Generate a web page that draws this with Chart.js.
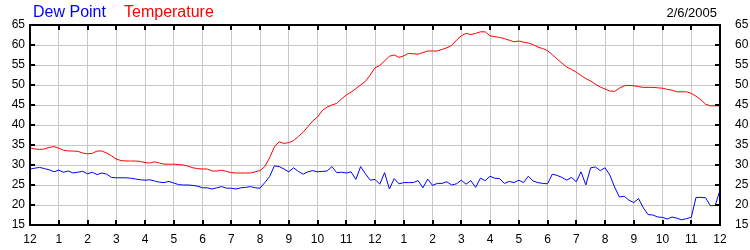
<!DOCTYPE html>
<html>
<head>
<meta charset="utf-8">
<script src="https://cdn.jsdelivr.net/npm/chart.js@4"></script>
<style>
  html, body { margin: 0; padding: 0; background: #fff; }
  canvas { display: block; }
</style>
</head>
<body>
<canvas id="graphe" width="750" height="250"></canvas>
<script>
// readings every 10 minutes, from midnight to midnight
const pasMinutes = 10;

const temperature = [
  34.3, 34.0, 33.9, 34.0, 34.4, 34.6, 34.2, 33.7, 33.5, 33.5, 33.4, 33.0,
  32.8, 32.9, 33.5, 33.5, 33.0, 32.3, 31.5, 31.1, 31.0, 31.0, 31.0, 30.9,
  30.6, 30.5, 30.8, 30.5, 30.2, 30.2, 30.2, 30.1, 30.0, 29.7, 29.3, 29.1,
  29.0, 29.0, 28.5, 28.5, 28.7, 28.4, 28.1, 28.0, 28.0, 28.0, 28.0, 28.3,
  28.6, 29.6, 31.8, 34.5, 35.8, 35.4, 35.6, 36.1, 37.1, 38.2, 39.6, 41.0,
  42.0, 43.6, 44.5, 45.0, 45.4, 46.5, 47.5, 48.2, 49.1, 50.0, 50.9, 52.5,
  54.3, 54.9, 56.0, 57.2, 57.5, 56.9, 57.3, 57.9, 57.8, 57.7, 58.1, 58.5,
  58.5, 58.5, 58.9, 59.3, 59.9, 61.2, 62.3, 62.9, 62.6, 62.9, 63.3, 63.3,
  62.3, 62.1, 61.9, 61.6, 61.2, 60.8, 61.0, 60.7, 60.5, 60.1, 59.5, 59.1,
  58.6, 57.6, 56.5, 55.5, 54.5, 53.9, 53.2, 52.4, 51.6, 51.0, 50.2, 49.5,
  49.0, 48.5, 48.4, 49.2, 49.8, 49.9, 49.8, 49.6, 49.4, 49.4, 49.4, 49.3,
  49.2, 48.9, 48.7, 48.3, 48.3, 48.3, 47.9, 47.2, 46.3, 45.2, 44.8, 44.8,
  44.8
];

const pointRosee = [
  29.0, 29.2, 29.4, 29.1, 28.8, 28.3, 28.7, 28.2, 28.5, 28.0, 28.2, 28.4,
  27.8, 28.2, 27.6, 28.0, 27.7, 26.9, 26.8, 26.8, 26.8, 26.7, 26.5, 26.3,
  26.2, 26.3, 26.0, 25.7, 25.6, 25.9, 25.5, 25.1, 25.0, 25.0, 24.9, 24.7,
  24.3, 24.3, 24.0, 24.3, 24.6, 24.2, 24.2, 24.0, 24.3, 24.4, 24.6, 24.3,
  24.2, 25.6, 27.1, 29.8, 29.6, 29.0, 28.3, 29.3, 28.4, 27.7, 28.3, 28.6,
  28.3, 28.4, 28.5, 29.6, 28.1, 28.2, 28.0, 28.3, 26.4, 29.6, 27.8, 26.2,
  26.4, 25.2, 28.1, 24.0, 26.6, 25.3, 25.6, 25.6, 25.6, 26.1, 24.3, 26.5,
  24.9, 25.4, 25.4, 25.8, 25.0, 25.3, 26.2, 25.2, 26.1, 24.4, 26.7, 26.1,
  27.2, 26.7, 26.6, 25.4, 25.9, 25.6, 26.2, 25.6, 27.2, 26.0, 25.6, 25.4,
  25.3, 27.7, 27.4, 26.9, 26.2, 26.9, 25.8, 28.3, 25.0, 29.3, 29.5, 28.6,
  29.3, 27.5, 24.5, 22.0, 22.2, 21.2, 20.6, 21.6, 19.3, 17.6, 17.5, 17.0,
  16.9, 16.5, 17.0, 16.7, 16.3, 16.6, 16.9, 21.9, 21.9, 21.8, 19.8, 19.9,
  23.7
];

const heures = ['12', '1', '2', '3', '4', '5', '6', '7', '8', '9', '10', '11',
                '12', '1', '2', '3', '4', '5', '6', '7', '8', '9', '10', '11', '12'];

const titreRosee = 'Dew Point';
const titreTemp = 'Temperature';
const date = '2/6/2005';

const bleu = '#0000ff';
const rouge = '#ff0000';
const police = "'Liberation Sans', Arial, sans-serif";

function points(valeurs) {
  return valeurs.map((v, i) => ({ x: i * pasMinutes / 60, y: v }));
}

// cadre noir + petites graduations vers l'interieur + titres
const cadre = {
  id: 'cadre',
  afterDraw(chart) {
    const ctx = chart.ctx;
    const a = chart.chartArea;
    const sx = chart.scales.x;
    const sy = chart.scales.y;
    ctx.save();
    ctx.strokeStyle = '#000';
    ctx.lineWidth = 2;
    ctx.beginPath();
    sx.ticks.forEach((t, i) => {
      const px = Math.round(sx.getPixelForTick(i));
      ctx.moveTo(px, a.top); ctx.lineTo(px, a.top + 5);
      ctx.moveTo(px, a.bottom); ctx.lineTo(px, a.bottom - 5);
    });
    sy.ticks.forEach((t, i) => {
      const py = Math.round(sy.getPixelForTick(i));
      ctx.moveTo(a.left, py); ctx.lineTo(a.left + 5, py);
      ctx.moveTo(a.right, py); ctx.lineTo(a.right - 5, py);
    });
    ctx.stroke();
    ctx.strokeRect(a.left, a.top, a.right - a.left, a.bottom - a.top);

    ctx.textBaseline = 'alphabetic';
    ctx.font = '16px ' + police;
    ctx.textAlign = 'left';
    ctx.fillStyle = bleu;
    ctx.fillText(titreRosee, 33, 17);
    ctx.fillStyle = rouge;
    ctx.fillText(titreTemp, 124, 17);
    ctx.font = '13px ' + police;
    ctx.fillStyle = '#000';
    ctx.textAlign = 'right';
    ctx.fillText(date, 717, 17);
    ctx.restore();
  }
};

const grille = '#c8c8c8';
const graduations = { color: '#000', font: { family: police, size: 12 } };

const Graph = document.getElementById('graphe').getContext('2d');
const chart = new Chart(Graph, {
  type: 'line',
  data: {
    datasets: [
      { label: titreRosee, data: points(pointRosee), borderColor: bleu, borderWidth: 1, pointRadius: 0, tension: 0 },
      { label: titreTemp, data: points(temperature), borderColor: rouge, borderWidth: 1, pointRadius: 0, tension: 0 }
    ]
  },
  options: {
    responsive: false,
    animation: false,
    layout: { padding: { top: 25, left: 0, right: 0, bottom: 0 } },
    plugins: { legend: { display: false }, tooltip: { enabled: false } },
    scales: {
      x: {
        type: 'linear', min: 0, max: 24,
        ticks: { ...graduations, stepSize: 1, autoSkip: false, maxRotation: 0, padding: 7,
                 callback: (v) => heures[v] },
        grid: { color: grille, drawTicks: false },
        border: { display: false },
        afterFit: (s) => { s.height = 25; }
      },
      y: {
        position: 'left', min: 15, max: 65,
        ticks: { ...graduations, stepSize: 5, padding: 5 },
        grid: { color: grille, drawTicks: false },
        border: { display: false },
        afterFit: (s) => { s.width = 30; }
      },
      y2: {
        position: 'right', min: 15, max: 65,
        ticks: { ...graduations, stepSize: 5, padding: 7 },
        grid: { display: false },
        border: { display: false },
        afterFit: (s) => { s.width = 30; }
      }
    }
  },
  plugins: [cadre]
});
</script>
</body>
</html>
